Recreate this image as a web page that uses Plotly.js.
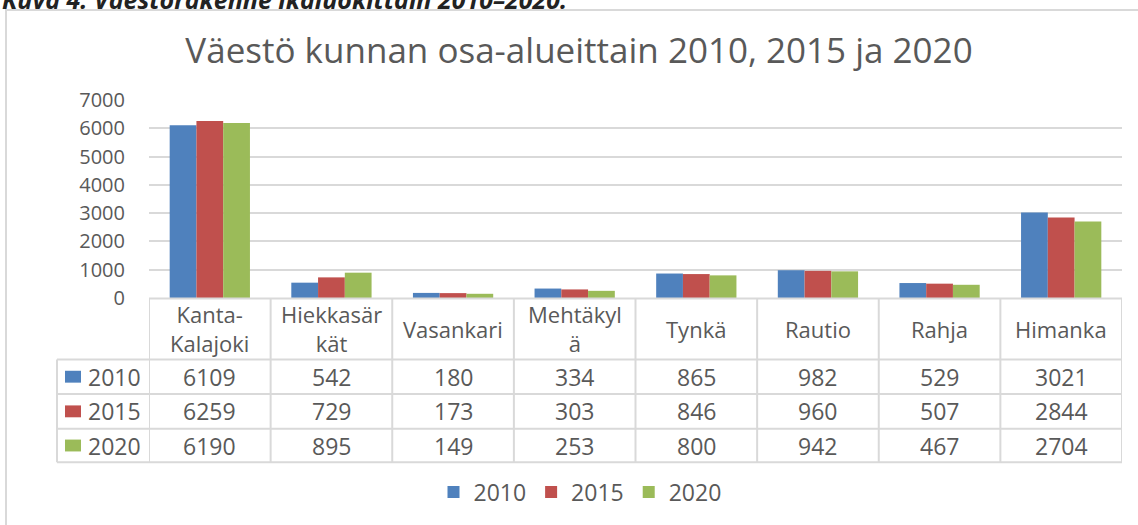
<!DOCTYPE html>
<html>
<head>
<meta charset="utf-8">
<script src="https://cdn.plot.ly/plotly-3.0.1.min.js"></script>
<style>html,body{margin:0;padding:0;background:#fff;}#chart{width:1138px;height:525px;}</style>
</head>
<body>
<div id="chart"></div>
<script>
const categories = ['Kanta-Kalajoki','Hiekkasärkät','Vasankari','Mehtäkylä','Tynkä','Rautio','Rahja','Himanka'];
const headerLabels = ['Kanta-<br>Kalajoki','Hiekkasär<br>kät','Vasankari','Mehtäkyl<br>ä','Tynkä','Rautio','Rahja','Himanka'];
const seriesNames = ['2010','2015','2020'];
const v2010 = [6109, 542, 180, 334, 865, 982, 529, 3021];
const v2015 = [6259, 729, 173, 303, 846, 960, 507, 2844];
const v2020 = [6190, 895, 149, 253, 800, 942, 467, 2704];
const yTicks = [0,1000,2000,3000,4000,5000,6000,7000];
const titleText = 'Väestö kunnan osa-alueittain 2010, 2015 ja 2020';
const captionText = 'Kuva 4. Väestörakenne ikäluokittain 2010–2020.';

const seriesValues = [v2010, v2015, v2020];
const colors = ['#4F81BD','#C0504D','#9BBB59'];
const textColor = '#595959';
const lineColor = '#D9D9D9';
const FONT = 'Open Sans, sans-serif';
const FS = 23;

// pixel helpers (plot area: left 149, right 1122, top 100, bottom 300)
const L = 149, R = 1122, T = 100, B = 300;
const px = p => (p - L) / (R - L);
const py = p => (B - p) / (B - T);

const traces = seriesNames.map((n, s) => ({
  type: 'bar', name: n, x: categories, y: seriesValues[s],
  marker: {color: colors[s], line: {width: 0}},
  hoverinfo: 'x+y+name'
}));

const shapes = [];
const annotations = [];
const hLines = [362, 397, 432, 466];
const rowCenters = [379.5, 414.5, 449];

// outer border
shapes.push({type:'line', xref:'paper', yref:'paper', x0:px(6), x1:px(6), y0:py(9), y1:py(540), line:{color:lineColor, width:2}});
shapes.push({type:'line', xref:'paper', yref:'paper', x0:px(5), x1:px(1140), y0:py(9), y1:py(9), line:{color:lineColor, width:2}});

// table horizontal lines
shapes.push({type:'line', xref:'paper', yref:'paper', x0:0, x1:1, y0:py(300.5), y1:py(300.5), line:{color:lineColor, width:2}});
hLines.forEach(h => shapes.push({type:'line', xref:'paper', yref:'paper', x0:px(57), x1:1, y0:py(h), y1:py(h), line:{color:lineColor, width:2}}));
// vertical lines
shapes.push({type:'line', xref:'paper', yref:'paper', x0:px(57), x1:px(57), y0:py(362), y1:py(466), line:{color:lineColor, width:2}});
for (let i = 0; i <= categories.length; i++) {
  shapes.push({type:'line', xref:'x', yref:'paper', x0:i-0.5, x1:i-0.5, y0:py(300), y1:py(466), line:{color:lineColor, width:2}});
}

// header labels
headerLabels.forEach((lab, i) => annotations.push({
  xref:'x', yref:'paper', x:i, y:py(331), text:lab, showarrow:false,
  font:{family:FONT, size:FS-1, color:textColor}, align:'center', yanchor:'middle'
}));

// table rows
seriesNames.forEach((n, s) => {
  shapes.push({type:'rect', xref:'paper', yref:'paper', x0:px(65), x1:px(81), y0:py(rowCenters[s]-6), y1:py(rowCenters[s]+6), fillcolor:colors[s], line:{width:0}});
  annotations.push({xref:'paper', yref:'paper', x:px(86), y:py(rowCenters[s]), text:n, showarrow:false, xanchor:'left', yanchor:'middle', font:{family:FONT, size:FS, color:textColor}});
  seriesValues[s].forEach((v, i) => annotations.push({
    xref:'x', yref:'paper', x:i, y:py(rowCenters[s]), text:String(v), showarrow:false,
    yanchor:'middle', font:{family:FONT, size:FS, color:textColor}
  }));
});

// caption (cut off at top, as in the source)
annotations.push({xref:'paper', yref:'paper', x:px(0), y:py(-2), xanchor:'left', yanchor:'middle', text:'<b><i>'+captionText+'</i></b>', showarrow:false, font:{family:FONT, size:25, color:'#222'}});

const layout = {
  width:1138, height:525,
  margin:{l:L, r:1138-R, t:T, b:525-B, pad:0},
  paper_bgcolor:'#fff', plot_bgcolor:'#fff',
  title:{text:titleText, font:{family:FONT, size:35, color:textColor}, x:px(579), xref:'paper', xanchor:'center', y:1-51/525, yanchor:'middle'},
  barmode:'group', bargap:0.34, bargroupgap:0,
  xaxis:{type:'category', range:[-0.5, categories.length-0.5], showticklabels:false, showgrid:false, zeroline:false, showline:false, ticks:'', fixedrange:true},
  yaxis:{range:[0,7000], tickvals:yTicks, ticktext:yTicks.map(String), showgrid:true, gridcolor:lineColor, gridwidth:2, zeroline:false, showline:false, ticks:'', ticklabelstandoff:23, tickfont:{family:FONT, size:20, color:textColor}, automargin:false, fixedrange:true},
  showlegend:true,
  legend:{orientation:'h', x:px(580), xanchor:'center', y:py(496), yanchor:'middle', font:{family:FONT, size:FS, color:textColor}, bgcolor:'rgba(0,0,0,0)', itemclick:false, traceorder:'normal'},
  shapes:shapes, annotations:annotations
};

Plotly.newPlot('chart', traces, layout, {displayModeBar:false});
</script>
</body>
</html>
